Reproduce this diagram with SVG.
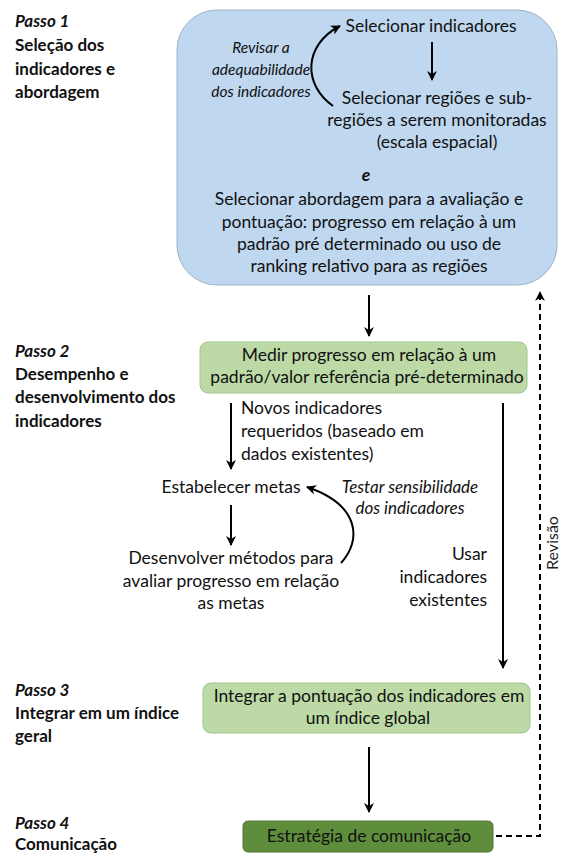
<svg xmlns="http://www.w3.org/2000/svg" width="562" height="853" viewBox="0 0 562 853">
<defs>
<style>
text{font-family:Lato,"Liberation Sans",sans-serif;font-size:17.5px;fill:#111}
.lab{font-size:17px;font-weight:bold}
.c{text-anchor:middle}
.e{text-anchor:end}
.i{font-style:italic}
.b{font-weight:bold}
.sm{font-size:15.5px}
.ln{stroke:#000;stroke-width:2;fill:none}
.dash{stroke:#000;stroke-width:2;fill:none;stroke-dasharray:6 4}
</style>
<marker id="ah" viewBox="0 0 10 10" refX="9" refY="5" markerWidth="5" markerHeight="5" orient="auto" markerUnits="strokeWidth">
<path d="M0,0 L10,5 L0,10 L3,5 Z" fill="#000"/>
</marker>
</defs>
<rect width="562" height="853" fill="#fff"/>

<g id="labels">
<text x="15" y="27" class="lab i">Passo 1</text>
<text x="15" y="51" class="lab">Seleção dos</text>
<text x="15" y="75" class="lab">indicadores e</text>
<text x="15" y="98" class="lab">abordagem</text>
<text x="15" y="357" class="lab i">Passo 2</text>
<text x="15" y="380" class="lab">Desempenho e</text>
<text x="15" y="403" class="lab">desenvolvimento dos</text>
<text x="15" y="427" class="lab">indicadores</text>
<text x="15" y="696" class="lab i">Passo 3</text>
<text x="15" y="719" class="lab">Integrar em um índice</text>
<text x="15" y="742" class="lab">geral</text>
<text x="15" y="829" class="lab i">Passo 4</text>
<text x="15" y="850" class="lab">Comunicação</text>
</g>

<g id="step1">
<rect x="177" y="10" width="380" height="275" rx="40" fill="#bfd7ef" stroke="#9fb3c8" stroke-width="1"/>
<text x="431" y="32" class="c">Selecionar indicadores</text>
<text x="437" y="104" class="c">Selecionar regiões e sub-</text>
<text x="437" y="126" class="c">regiões a serem monitoradas</text>
<text x="437" y="148" class="c">(escala espacial)</text>
<text x="366" y="181" class="c b i">e</text>
<text x="369" y="205" class="c">Selecionar abordagem para a avaliação e</text>
<text x="369" y="228" class="c">pontuação: progresso em relação à um</text>
<text x="369" y="250" class="c">padrão pré determinado ou uso de</text>
<text x="369" y="272" class="c">ranking relativo para as regiões</text>
<text x="261" y="53" class="c i sm">Revisar a</text>
<text x="261" y="75" class="c i sm">adequabilidade</text>
<text x="261" y="97" class="c i sm">dos indicadores</text>
</g>

<g id="step2">
<rect x="200" y="342" width="327" height="51" rx="8" fill="#bcd9a6" stroke="#a3c58b" stroke-width="1"/>
<text x="369" y="361" class="c">Medir progresso em relação à um</text>
<text x="367" y="383" class="c">padrão/valor referência pré-determinado</text>
<text x="241" y="414">Novos indicadores</text>
<text x="241" y="437">requeridos (baseado em</text>
<text x="241" y="460">dados existentes)</text>
<text x="231" y="493" class="c">Estabelecer metas</text>
<text x="410" y="493" class="c i" style="font-size:17px">Testar sensibilidade</text>
<text x="410" y="514" class="c i" style="font-size:17px">dos indicadores</text>
<text x="231" y="564" class="c">Desenvolver métodos para</text>
<text x="231" y="587" class="c">avaliar progresso em relação</text>
<text x="231" y="609" class="c">as metas</text>
<text x="487" y="560" class="e">Usar</text>
<text x="487" y="583" class="e">indicadores</text>
<text x="487" y="606" class="e">existentes</text>
</g>

<g id="step3">
<rect x="203" y="683" width="327" height="50" rx="8" fill="#bcd9a6" stroke="#a3c58b" stroke-width="1"/>
<text x="369" y="702" class="c">Integrar a pontuação dos indicadores em</text>
<text x="368" y="724" class="c">um índice global</text>
</g>

<g id="step4">
<rect x="243" y="821" width="250" height="31" rx="5" fill="#5e8d3c" stroke="#4f7a32" stroke-width="1"/>
<text x="369" y="842" class="c">Estratégia de comunicação</text>
</g>

<g id="connectors">
<line x1="432" y1="42" x2="432" y2="80" class="ln" marker-end="url(#ah)"/>
<path d="M333,106 C303,85 303,45 340,26" class="ln" marker-end="url(#ah)"/>
<line x1="369" y1="295" x2="369" y2="336" class="ln" marker-end="url(#ah)"/>
<line x1="231" y1="403" x2="231" y2="469" class="ln" marker-end="url(#ah)"/>
<line x1="503" y1="403" x2="503" y2="668" class="ln" marker-end="url(#ah)"/>
<line x1="231" y1="505" x2="231" y2="545" class="ln" marker-end="url(#ah)"/>
<path d="M341,563 C362,540 360,505 307,487" class="ln" marker-end="url(#ah)"/>
<line x1="369" y1="747" x2="369" y2="812" class="ln" marker-end="url(#ah)"/>
<polyline points="496,836 540,836 540,292" class="dash" marker-end="url(#ah)"/>
<text x="0" y="0" transform="translate(558,543) rotate(-90)" class="c" style="font-size:16px;fill:#222">Revisão</text>
</g>
</svg>
